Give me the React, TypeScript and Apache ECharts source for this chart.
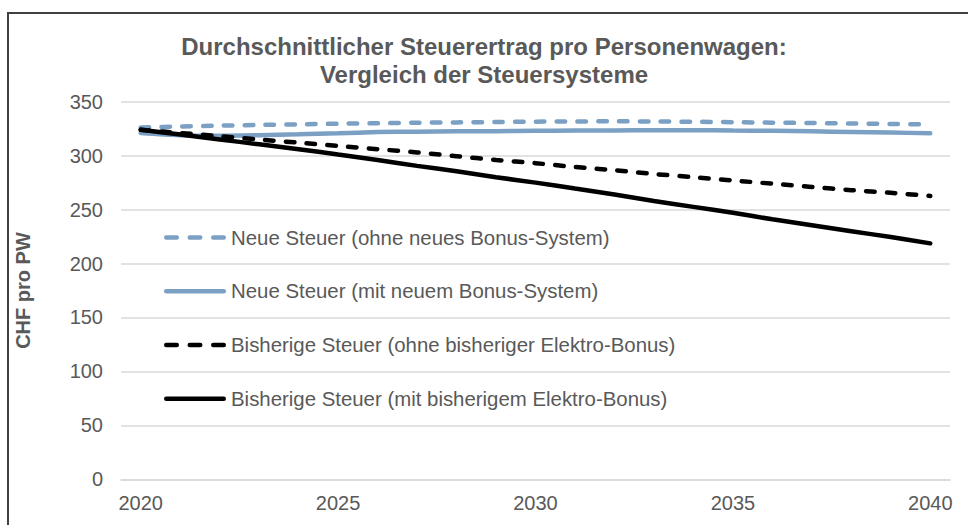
import React, { useEffect, useRef } from "react";
import * as echarts from "echarts";

const years = [
  "2020", "2021", "2022", "2023", "2024", "2025", "2026", "2027", "2028", "2029", "2030",
  "2031", "2032", "2033", "2034", "2035", "2036", "2037", "2038", "2039", "2040",
];

const seriesNames = [
  "Neue Steuer (ohne neues Bonus-System)",
  "Neue Steuer (mit neuem Bonus-System)",
  "Bisherige Steuer (ohne bisheriger Elektro-Bonus)",
  "Bisherige Steuer (mit bisherigem Elektro-Bonus)",
];

const neueOhne = [
  326, 327, 327.8, 328.5, 329, 329.6, 330, 330.5, 330.8, 331.2, 331.5,
  331.7, 331.8, 331.7, 331.4, 331, 330.6, 330.2, 329.8, 329.4, 329,
];
const neueMit = [
  321, 319, 318.5, 319, 319.8, 320.8, 321.8, 322.2, 322.5, 322.7, 323,
  323.2, 323.4, 323.6, 323.6, 323.3, 323, 322.5, 322, 321.4, 320.7,
];
const bisherOhne = [
  324, 321, 318, 315, 312, 309, 306, 303, 299.5, 296, 293,
  289.5, 286.5, 283, 280, 277, 274, 271, 268, 265.5, 262.6,
];
const bisherMit = [
  324, 319.5, 315, 310.5, 306, 301, 296, 290.5, 285.5, 280, 275,
  269.5, 264, 258, 252.5, 247, 241, 235.5, 230, 224.5, 218.7,
];

const yTicks = { min: 0, max: 350, interval: 50 };
const titleText = "Durchschnittlicher Steuerertrag pro Personenwagen:\nVergleich der Steuersysteme";
const yAxisName = "CHF pro PW";

const FONT = "'Liberation Sans', Arial, sans-serif";
const TEXT = "#595959";
const BLUE = "#7ba0c4";
const BLACK = "#000000";

// legend icons: rounded bars (dashed = three short bars, solid = one long bar)
const r = 2.25;
const bar = (x: number, w: number) =>
  `M${x + r},0 h${w - 2 * r} a${r},${r} 0 0 1 0,${2 * r} h${-(w - 2 * r)} a${r},${r} 0 0 1 0,${-2 * r} Z`;
const DASH_ICON = "path://" + bar(0, 15) + " " + bar(23.5, 15) + " " + bar(47, 15);
const SOLID_ICON = "path://" + bar(0, 62);

export default function App() {
  const ref = useRef<HTMLDivElement>(null);

  useEffect(() => {
    if (!ref.current) return;
    const chart = echarts.init(ref.current, undefined, { renderer: "svg" });

    const styles = [
      { color: BLUE, type: [8.5, 12.3] as any, icon: DASH_ICON },
      { color: BLUE, type: "solid" as any, icon: SOLID_ICON },
      { color: BLACK, type: [8.5, 12.3] as any, icon: DASH_ICON },
      { color: BLACK, type: "solid" as any, icon: SOLID_ICON },
    ];
    const datas = [neueOhne, neueMit, bisherOhne, bisherMit];
    const legendTops = [227.5, 281.2, 335, 388.8];

    chart.setOption({
      animation: false,
      backgroundColor: "#ffffff",
      textStyle: { fontFamily: FONT },
      title: {
        text: titleText,
        left: "center",
        top: 32,
        padding: 0,
        textStyle: {
          fontFamily: FONT,
          fontSize: 24,
          fontWeight: "bold",
          color: TEXT,
          lineHeight: 28,
        },
      },
      graphic: [
        {
          type: "rect",
          shape: { x: 8, y: 13, width: 1000, height: 560 },
          style: { fill: "none", stroke: "#404040", lineWidth: 2 },
          silent: true,
          z: 100,
        },
      ],
      legend: seriesNames.map((n, i) => ({
        data: [{ name: n, icon: styles[i].icon }],
        orient: "vertical",
        left: 164,
        top: legendTops[i],
        padding: 0,
        itemWidth: 62,
        itemHeight: 14,
        itemGap: 0,
        symbolKeepAspect: true,
        textStyle: { fontFamily: FONT, fontSize: 20.4, color: TEXT, lineHeight: 20 },
        selectedMode: false,
      })),
      grid: { left: 121, right: 18, top: 101.7, bottom: 45.7, containLabel: false },
      xAxis: {
        type: "category",
        data: years,
        boundaryGap: true,
        axisLine: { show: true, lineStyle: { color: "#d9d9d9", width: 1.5 } },
        axisTick: { show: false },
        axisLabel: {
          interval: 4,
          fontSize: 20,
          color: TEXT,
          fontFamily: FONT,
          margin: 14,
        },
        splitLine: { show: false },
      },
      yAxis: {
        type: "value",
        min: yTicks.min,
        max: yTicks.max,
        interval: yTicks.interval,
        name: yAxisName,
        nameLocation: "middle",
        nameRotate: 90,
        nameGap: 88,
        nameTextStyle: { fontSize: 20, fontWeight: "bold", color: TEXT, fontFamily: FONT },
        axisLine: { show: false },
        axisTick: { show: false },
        axisLabel: { fontSize: 20, color: TEXT, fontFamily: FONT, margin: 18 },
        splitLine: { show: true, lineStyle: { color: "#d9d9d9", width: 1.5 } },
      },
      series: seriesNames.map((n, i) => ({
        name: n,
        type: "line",
        data: datas[i],
        symbol: "none",
        smooth: 0.3,
        color: styles[i].color,
        itemStyle: { color: styles[i].color },
        lineStyle: { color: styles[i].color, width: 4.5, type: styles[i].type, cap: "round" },
      })),
    });

    return () => chart.dispose();
  }, []);

  return (
    <div
      ref={ref}
      style={{ position: "fixed", left: 0, top: 0, width: 968, height: 525 }}
    />
  );
}
